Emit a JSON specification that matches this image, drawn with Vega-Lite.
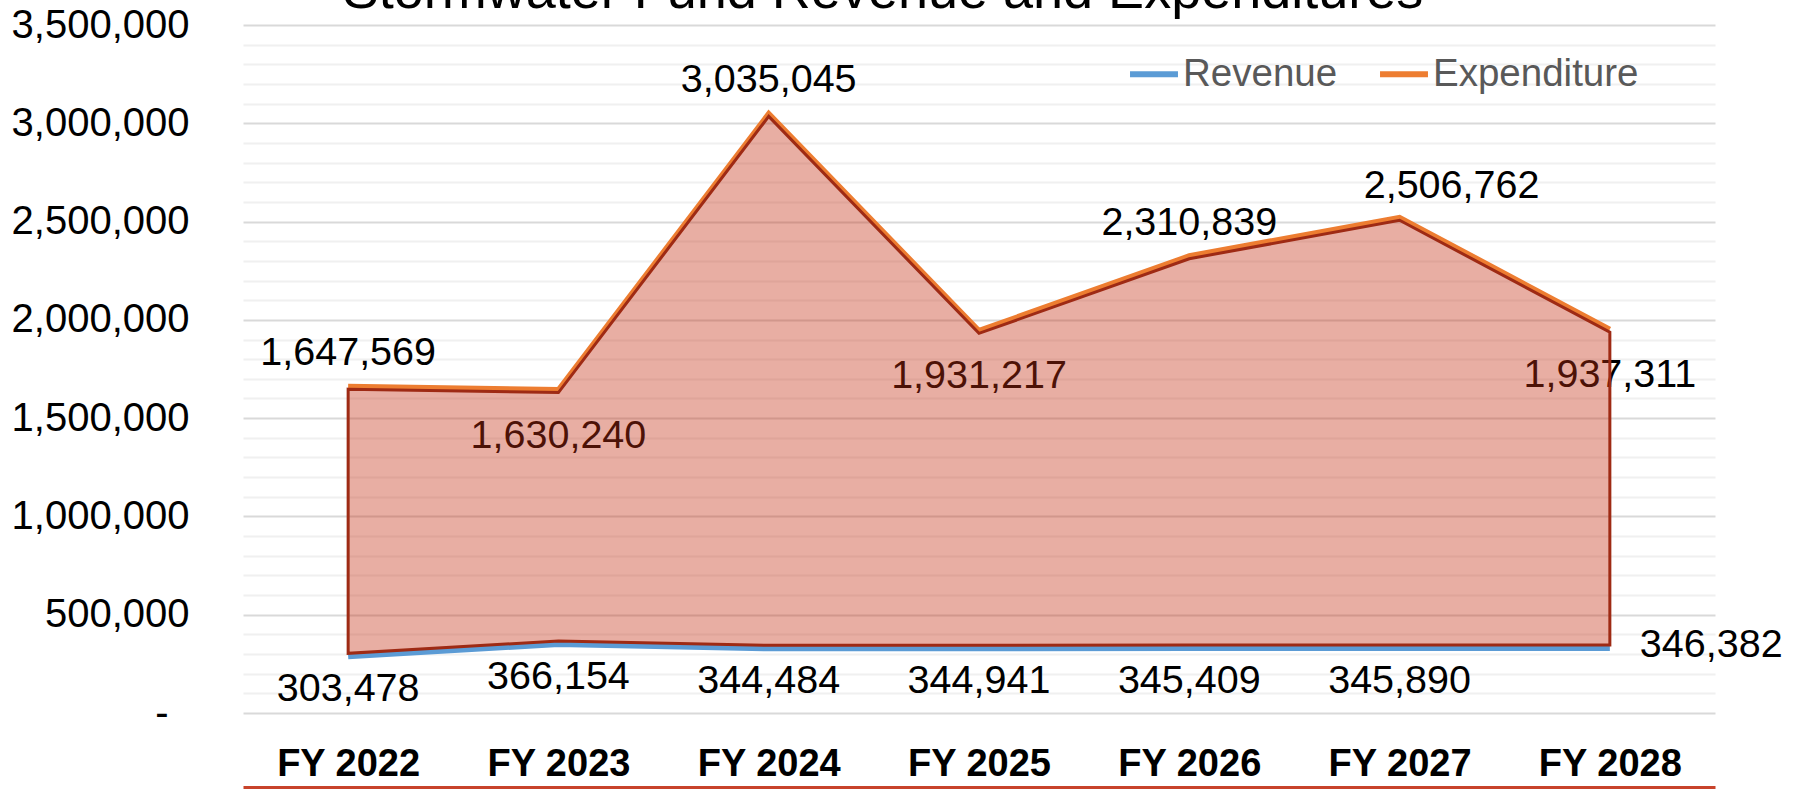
{
  "$schema": "https://vega.github.io/schema/vega-lite/v6.json",
  "width": 1472,
  "height": 688,
  "autosize": {"type": "none"},
  "padding": {"left": 243, "top": 25, "right": 84, "bottom": 76},
  "background": "white",
  "title": {
    "text": "Stormwater Fund Revenue and Expenditures",
    "fontSize": 54,
    "font": "Liberation Sans",
    "fontWeight": "normal",
    "color": "#000000",
    "anchor": "middle",
    "dx": -96,
    "dy": 57,
    "offset": 0,
    "baseline": "alphabetic"
  },
  "config": {
    "view": {"stroke": null},
    "font": "Liberation Sans",
    "axisY": {
      "tickCount": 35,
      "labelExpr": "datum.value == 0 ? '-' : (datum.value % 500000 == 0 ? format(datum.value, ',') : '')",
      "labelFontSize": 40, "labelFont": "Liberation Sans", "labelColor": "#000000",
      "labelOverlap": false,
      "domain": false, "ticks": false,
      "labelPadding": {"condition": {"test": "datum.value == 0", "value": 75}, "value": 54},
      "grid": true,
      "gridColor": {"condition": {"test": "datum.value % 500000 == 0", "value": "#D9D9D9"}, "value": "#F0F0F0"},
      "gridWidth": 2
    }
  },
  "data": {
    "values": [
      {"year": "FY 2022", "Revenue": 303478, "Expenditure": 1647569},
      {"year": "FY 2023", "Revenue": 366154, "Expenditure": 1630240},
      {"year": "FY 2024", "Revenue": 344484, "Expenditure": 3035045},
      {"year": "FY 2025", "Revenue": 344941, "Expenditure": 1931217},
      {"year": "FY 2026", "Revenue": 345409, "Expenditure": 2310839},
      {"year": "FY 2027", "Revenue": 345890, "Expenditure": 2506762},
      {"year": "FY 2028", "Revenue": 346382, "Expenditure": 1937311}
    ]
  },
  "layer": [
    {
      "transform": [{"filter": {"field": "year", "oneOf": ["FY 2022", "FY 2024", "FY 2026"]}}],
      "mark": {"type": "text", "fontSize": 39.5, "font": "Liberation Sans", "color": "#000000", "baseline": "middle", "dy": -36},
      "encoding": {
        "x": {
          "field": "year", "type": "ordinal", "title": null,
          "scale": {"type": "point", "padding": 0.5},
          "axis": {"labelFontSize": 38, "labelFont": "Liberation Sans", "labelFontWeight": "bold", "labelColor": "#000000", "domain": true, "domainColor": "#C8432B", "domainWidth": 3, "offset": 74, "ticks": false, "grid": false, "labelPadding": -42, "labelAngle": 0, "labelOverlap": false}
        },
        "y": {
          "field": "Expenditure", "type": "quantitative", "title": null,
          "scale": {"domain": [0, 3500000], "nice": false, "zero": true},
          "axis": {"tickCount": 35}
        },
        "text": {"field": "Expenditure", "type": "quantitative", "format": ",.0f"}
      }
    },
    {
      "transform": [{"filter": {"field": "year", "oneOf": ["FY 2027"]}}],
      "mark": {"type": "text", "fontSize": 39.5, "font": "Liberation Sans", "color": "#000000", "baseline": "middle", "dy": -34, "dx": 52},
      "encoding": {
        "x": {"field": "year", "type": "ordinal"},
        "y": {"field": "Expenditure", "type": "quantitative", "title": null, "axis": {"tickCount": 35}},
        "text": {"field": "Expenditure", "type": "quantitative", "format": ",.0f"}
      }
    },
    {
      "transform": [{"filter": {"field": "year", "oneOf": ["FY 2023", "FY 2025", "FY 2028"]}}],
      "mark": {"type": "text", "fontSize": 39.5, "font": "Liberation Sans", "color": "#000000", "baseline": "middle", "dy": 43},
      "encoding": {
        "x": {"field": "year", "type": "ordinal"},
        "y": {"field": "Expenditure", "type": "quantitative", "title": null, "axis": {"tickCount": 35}},
        "text": {"field": "Expenditure", "type": "quantitative", "format": ",.0f"}
      }
    },
    {
      "transform": [{"filter": {"not": {"field": "year", "equal": "FY 2028"}}}],
      "mark": {"type": "text", "fontSize": 39.5, "font": "Liberation Sans", "color": "#000000", "baseline": "middle", "dy": 36},
      "encoding": {
        "x": {"field": "year", "type": "ordinal"},
        "y": {"field": "Revenue", "type": "quantitative", "title": null, "axis": {"tickCount": 35}},
        "text": {"field": "Revenue", "type": "quantitative", "format": ",.0f"}
      }
    },
    {
      "transform": [{"filter": {"field": "year", "equal": "FY 2028"}}],
      "mark": {"type": "text", "fontSize": 39.5, "font": "Liberation Sans", "color": "#000000", "baseline": "middle", "align": "left", "dx": 30, "dy": 0},
      "encoding": {
        "x": {"field": "year", "type": "ordinal"},
        "y": {"field": "Revenue", "type": "quantitative", "title": null, "axis": {"tickCount": 35}},
        "text": {"field": "Revenue", "type": "quantitative", "format": ",.0f"}
      }
    },
    {
      "mark": {"type": "line", "strokeWidth": 6, "yOffset": 3},
      "encoding": {
        "x": {"field": "year", "type": "ordinal"},
        "y": {"field": "Revenue", "type": "quantitative", "title": null, "axis": {"tickCount": 35}},
        "color": {
          "datum": "Revenue",
          "scale": {"domain": ["Revenue", "Expenditure"], "range": ["#5B9BD5", "#ED7D31"]},
          "legend": {
            "title": null, "orient": "none", "legendX": 884, "legendY": 22, "direction": "horizontal",
            "symbolType": "stroke", "symbolStrokeWidth": 6, "symbolSize": 2300,
            "labelFontSize": 38.5, "labelFont": "Liberation Sans", "labelColor": "#595959",
            "labelOffset": 2, "columnPadding": 30, "labelLimit": 500
          }
        }
      }
    },
    {
      "mark": {"type": "line", "strokeWidth": 5, "yOffset": -3},
      "encoding": {
        "x": {"field": "year", "type": "ordinal"},
        "y": {"field": "Expenditure", "type": "quantitative", "title": null, "axis": {"tickCount": 35}},
        "color": {"datum": "Expenditure"}
      }
    },
    {
      "mark": {"type": "area", "fill": "#C42F11", "fillOpacity": 0.39, "stroke": "#9E2A14", "strokeWidth": 3},
      "encoding": {
        "x": {"field": "year", "type": "ordinal"},
        "y": {"field": "Expenditure", "type": "quantitative", "title": null, "axis": {"tickCount": 35}},
        "y2": {"field": "Revenue"}
      }
    }
  ]
}
